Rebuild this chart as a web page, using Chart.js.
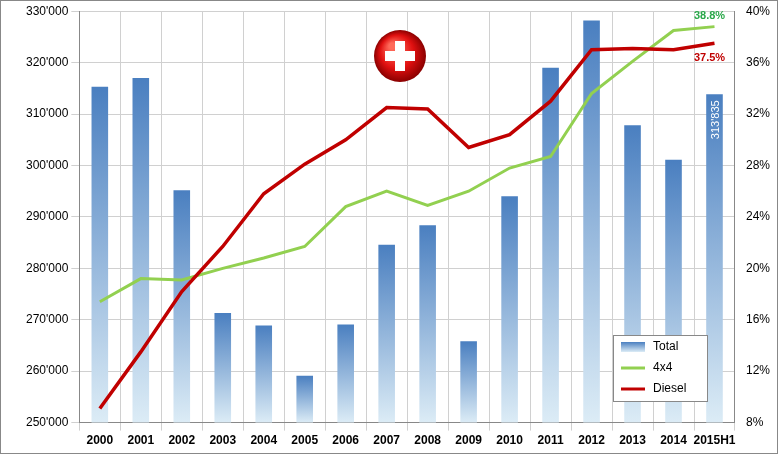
<!DOCTYPE html>
<html>
<head>
<meta charset="utf-8">
<script src="https://cdn.jsdelivr.net/npm/chart.js@4"></script>
<style>
body { margin: 0; background: #fff; }
#wrap { width: 776px; height: 452px; border: 1px solid #888; position: relative; }
</style>
</head>
<body>
<div id="wrap"><canvas id="grafico" width="776" height="452"></canvas></div>
<script>
// Datos del grafico
var anios = ['2000','2001','2002','2003','2004','2005','2006','2007','2008','2009','2010','2011','2012','2013','2014','2015H1'];
var totales = [315300, 317000, 295200, 271300, 268900, 259100, 269100, 284600, 288400, 265800, 294000, 319000, 328200, 307800, 301100, 313835];
var cuota4x4 = [17.4, 19.2, 19.1, 20.0, 20.8, 21.7, 24.8, 26.0, 24.9, 26.0, 27.8, 28.7, 33.6, 36.1, 38.5, 38.8];
var cuotaDiesel = [9.1, 13.5, 18.2, 21.7, 25.8, 28.1, 30.0, 32.5, 32.4, 29.4, 30.4, 33.0, 37.0, 37.1, 37.0, 37.5];

function miles(v) {
    return String(v).replace(/\B(?=(\d{3})+(?!\d))/g, "'");
}

// Degradado de cada barra (oscuro arriba, claro abajo)
function degradado(ctx) {
    var chart = ctx.chart;
    var area = chart.chartArea;
    if (!area || !ctx.parsed) return '#5b8cc8';
    var top = chart.scales.y.getPixelForValue(ctx.parsed.y);
    var g = chart.ctx.createLinearGradient(0, top, 0, area.bottom);
    g.addColorStop(0, '#4a7fc0');
    g.addColorStop(1, '#dcecf6');
    return g;
}

// Etiquetas y bandera suiza
var extras = {
    id: 'extras',
    afterDatasetsDraw: function(chart) {
        var c = chart.ctx;
        var meta0 = chart.getDatasetMeta(0);
        var meta1 = chart.getDatasetMeta(1);
        var meta2 = chart.getDatasetMeta(2);
        var n = anios.length - 1;
        c.save();
        c.font = 'bold 11px Arial, "Liberation Sans"';
        c.textAlign = 'center';
        c.fillStyle = '#2aa84a';
        c.fillText(cuota4x4[n].toFixed(1) + '%', meta1.data[n].x - 5, meta1.data[n].y - 8);
        c.fillStyle = '#c00000';
        c.fillText(cuotaDiesel[n].toFixed(1) + '%', meta2.data[n].x - 5, meta2.data[n].y + 18);
        var b = meta0.data[n];
        c.translate(b.x + 1, b.y + 6);
        c.rotate(-Math.PI / 2);
        c.textAlign = 'right';
        c.textBaseline = 'middle';
        c.font = '11px Arial, "Liberation Sans"';
        c.fillStyle = '#ffffff';
        c.fillText(miles(totales[n]), 0, 0);
        c.restore();
        // bandera
        c.save();
        var cx = 399, cy = 55, r = 26;
        var g = c.createRadialGradient(cx - 8, cy - 10, 3, cx, cy, r);
        g.addColorStop(0, '#ff6a5a');
        g.addColorStop(0.6, '#e01010');
        g.addColorStop(1, '#8a0000');
        c.beginPath();
        c.arc(cx, cy, r, 0, Math.PI * 2);
        c.fillStyle = g;
        c.fill();
        c.fillStyle = '#ffffff';
        c.fillRect(cx - 5, cy - 15, 10, 30);
        c.fillRect(cx - 15, cy - 5, 30, 10);
        c.restore();
    }
};

new Chart(document.getElementById('grafico'), {
    data: {
        labels: anios,
        datasets: [{
            type: 'bar',
            label: 'Total',
            data: totales,
            yAxisID: 'y',
            backgroundColor: degradado,
            categoryPercentage: 0.9,
            barPercentage: 0.45,
            order: 3
        }, {
            type: 'line',
            label: '4x4',
            data: cuota4x4,
            yAxisID: 'y1',
            borderColor: '#92d050',
            backgroundColor: '#92d050',
            borderWidth: 3,
            pointRadius: 0,
            tension: 0,
            order: 2
        }, {
            type: 'line',
            label: 'Diesel',
            data: cuotaDiesel,
            yAxisID: 'y1',
            borderColor: '#c00000',
            backgroundColor: '#c00000',
            borderWidth: 3.5,
            pointRadius: 0,
            tension: 0,
            order: 1
        }]
    },
    options: {
        responsive: false,
        animation: false,
        layout: { padding: { left: 22, right: 4, top: 6, bottom: 2 } },
        plugins: {
            legend: { display: false },
            tooltip: { enabled: false }
        },
        scales: {
            x: {
                grid: { color: '#d0d0d0', offset: true },
                border: { color: '#888' },
                ticks: { color: '#000', font: { family: 'Arial, "Liberation Sans"', size: 12, weight: 'bold' }, maxRotation: 0, autoSkip: false }
            },
            y: {
                position: 'left',
                min: 250000, max: 330000,
                grid: { color: '#d0d0d0' },
                border: { color: '#888' },
                ticks: { stepSize: 10000, color: '#000', font: { family: 'Arial, "Liberation Sans"', size: 12 }, callback: function(v) { return miles(v); } }
            },
            y1: {
                position: 'right',
                min: 8, max: 40,
                grid: { display: false },
                border: { color: '#888' },
                ticks: { stepSize: 4, color: '#000', font: { family: 'Arial, "Liberation Sans"', size: 12 }, callback: function(v) { return v + '%'; } }
            }
        }
    },
    plugins: [extras, {
        id: 'leyenda',
        afterDraw: function(chart) {
            var c = chart.ctx;
            var x = 612, y = 334, w = 94, h = 66;
            c.save();
            c.fillStyle = '#fff';
            c.fillRect(x, y, w, h);
            c.strokeStyle = '#888';
            c.lineWidth = 1;
            c.strokeRect(x + 0.5, y + 0.5, w, h);
            c.font = '12px Arial, "Liberation Sans"';
            c.textBaseline = 'middle';
            var items = [['Total', 'bar'], ['4x4', '#92d050'], ['Diesel', '#c00000']];
            items.forEach(function(it, i) {
                var yy = y + 12 + i * 21;
                if (it[1] === 'bar') {
                    var g = c.createLinearGradient(0, yy - 5, 0, yy + 5);
                    g.addColorStop(0, '#4a7fc0');
                    g.addColorStop(1, '#dcecf6');
                    c.fillStyle = g;
                    c.fillRect(x + 8, yy - 5, 24, 10);
                } else {
                    c.strokeStyle = it[1];
                    c.lineWidth = 3;
                    c.beginPath();
                    c.moveTo(x + 8, yy);
                    c.lineTo(x + 32, yy);
                    c.stroke();
                }
                c.fillStyle = '#000';
                c.fillText(it[0], x + 40, yy);
            });
            c.restore();
        }
    }]
});
</script>
</body>
</html>
